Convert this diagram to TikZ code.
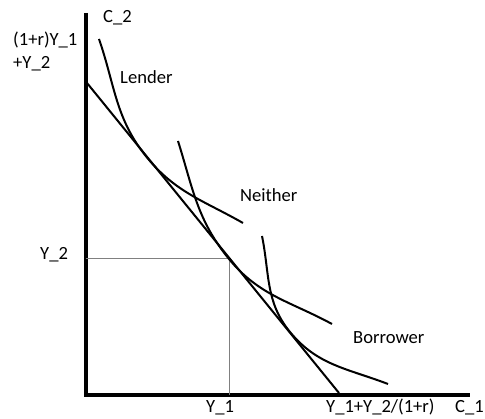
\documentclass[tikz,border=0pt]{standalone}
\usepackage{fontspec}
\setmainfont{Carlito}
\begin{document}
\begin{tikzpicture}[x=1pt,y=-1pt,
  lbl/.style={anchor=base west,inner sep=0pt,font=\fontsize{18.6}{21}\selectfont},
  axisline/.style={line width=4pt},
  curve/.style={line width=2pt},
  guide/.style={line width=1pt,gray}]
\path[use as bounding box,fill=white] (0,0) rectangle (485,419);
% axes
\coordinate (O) at (85.5,395.5);
\coordinate (Ytop) at (85.5,13);
\coordinate (Xend) at (470,395.5);
\draw[axisline] (Ytop) -- (O |- Xend) -- (Xend);
% guides
\coordinate (E) at (229,259);
\coordinate (EY) at (85.5,259);
\coordinate (EX) at (229,395.5);
\draw[guide] (EY) -- (E) -- (EX);
% budget line
\coordinate (B1) at (87,83);
\coordinate (B2) at (339,393);
\draw[curve] (B1) -- (B2);
% Lender curve
\coordinate (L1) at (99,39);
\coordinate (LT) at (147,157.5);
\coordinate (L2) at (243,223);
\draw[curve] (L1) to[out=-71,in=129.3] (LT) to[out=-50.7,in=150.3] (L2);
% Neither curve
\coordinate (N1) at (178,141);
\coordinate (N2) at (332,324);
\draw[curve] (N1) to[out=-72.6,in=129.3] (E) to[out=-50.7,in=151.5] (N2);
% Borrower curve
\coordinate (R1) at (262,236);
\coordinate (RT) at (290,332);
\coordinate (R2) at (388,384);
\draw[curve] (R1) to[out=-78.5,in=129.3] (RT) to[out=-50.7,in=159] (R2);
% labels
\node[lbl] (c2) at (103,22.5) {C\_2};
\node[lbl] (ym1) at (13,46) {(1+r)Y\_1};
\node[lbl] (ym2) at (13,69) {+Y\_2};
\node[lbl] (len) at (120,83.5) {Lender};
\node[lbl] (nei) at (240,202) {Neither};
\node[lbl] (bor) at (353,344) {Borrower};
\node[lbl] (y2) at (40,260) {Y\_2};
\node[lbl] (y1) at (206,413) {Y\_1};
\node[lbl] (xm) at (326,413) {Y\_1+Y\_2/(1+r)};
\node[lbl] (c1) at (455,413) {C\_1};
\end{tikzpicture}
\end{document}
